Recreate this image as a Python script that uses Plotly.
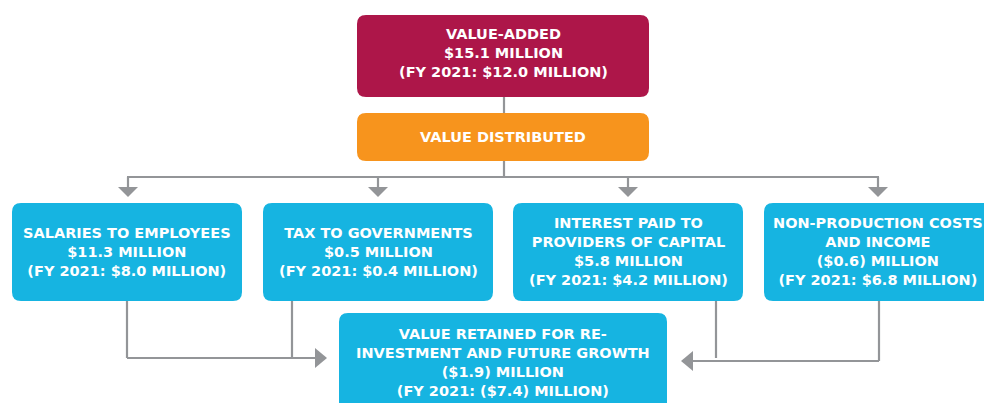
import plotly.graph_objects as go

# ---------------- data ----------------
box_titles = [
    "VALUE-ADDED",
    "VALUE DISTRIBUTED",
    "SALARIES TO EMPLOYEES",
    "TAX TO GOVERNMENTS",
    "INTEREST PAID TO<br>PROVIDERS OF CAPITAL",
    "NON-PRODUCTION COSTS<br>AND INCOME",
    "VALUE RETAINED FOR RE-<br>INVESTMENT AND FUTURE GROWTH",
]
value_fy2022 = [15.1, None, 11.3, 0.5, 5.8, -0.6, -1.9]   # $ million
value_fy2021 = [12.0, None, 8.0, 0.4, 4.2, 6.8, -7.4]     # $ million
comparison_year = "FY 2021"

# ---------------- layout (pixel space) ----------------
W, H = 984, 403
MAROON, ORANGE, CYAN, GREY = "#AD1649", "#F7941D", "#16B4E1", "#939598"
# x0, x1, y0, y1, colour
boxes = [
    (357, 649, 15, 97, MAROON),
    (357, 649, 113, 161, ORANGE),
    (12, 242, 203, 301, CYAN),
    (263, 493, 203, 301, CYAN),
    (513, 743, 203, 301, CYAN),
    (764, 994, 203, 301, CYAN),
    (339, 667, 313, 420, CYAN),
]
text_centers = [(503, 53), (503, 137), (127, 252), (378, 252), (628, 251), (878, 251), (503, 362)]


def money(v):
    return f"(${abs(v):.1f})" if v < 0 else f"${v:.1f}"


def label(i):
    t = box_titles[i]
    if value_fy2022[i] is None:
        return t
    return (f"{t}<br>{money(value_fy2022[i])} MILLION<br>"
            f"({comparison_year}: {money(value_fy2021[i])} MILLION)")


def rrect(x0, x1, y0, y1, r=9):
    return (f"M{x0+r},{y0} L{x1-r},{y0} Q{x1},{y0} {x1},{y0+r} "
            f"L{x1},{y1-r} Q{x1},{y1} {x1-r},{y1} L{x0+r},{y1} "
            f"Q{x0},{y1} {x0},{y1-r} L{x0},{y0+r} Q{x0},{y0} {x0+r},{y0} Z")


shapes = []
lw = 2.2


def line(x0, y0, x1, y1):
    shapes.append(dict(type="line", x0=x0, y0=y0, x1=x1, y1=y1, xref="x", yref="y",
                       line=dict(color=GREY, width=lw), layer="below"))


def tri(path):
    shapes.append(dict(type="path", path=path, fillcolor=GREY, line=dict(width=0),
                       xref="x", yref="y"))


# connectors
line(504, 97, 504, 113)
line(504, 161, 504, 177)
line(127, 177, 879, 177)
for x in (128, 378, 628, 878):
    line(x, 177, x, 188)
    tri(f"M{x-10},187 L{x+10},187 L{x},197 Z")
# left merge
line(127, 301, 127, 358)
line(292, 301, 292, 358)
line(127, 358, 316, 358)
tri("M315,348 L315,368 L327,358 Z")
# right merge
line(716, 301, 716, 358)
line(879, 301, 879, 361)
line(879, 361, 692, 361)
tri("M693,351 L693,371 L681,361 Z")

for (x0, x1, y0, y1, c) in boxes:
    shapes.append(dict(type="path", path=rrect(x0, x1, y0, y1), fillcolor=c,
                       line=dict(width=0), xref="x", yref="y"))

annotations = []
for i, (cx, cy) in enumerate(text_centers):
    annotations.append(dict(x=cx, y=cy, xref="x", yref="y", text=label(i),
                            showarrow=False, align="center",
                            font=dict(family="DejaVu Sans", size=14.5, color="white", weight="bold")))

fig = go.Figure()
fig.add_trace(go.Scatter(x=[0, W], y=[0, H], mode="markers", marker=dict(opacity=0),
                         hoverinfo="skip", showlegend=False))
fig.update_layout(
    width=W, height=H, margin=dict(l=0, r=0, t=0, b=0),
    paper_bgcolor="white", plot_bgcolor="white",
    xaxis=dict(range=[0, W], visible=False, fixedrange=True),
    yaxis=dict(range=[H, 0], visible=False, fixedrange=True),
    shapes=shapes, annotations=annotations, showlegend=False,
)
fig.write_html("out.html", config={"displayModeBar": False},
               post_script="document.body.style.margin='0';document.body.style.overflow='hidden';")
